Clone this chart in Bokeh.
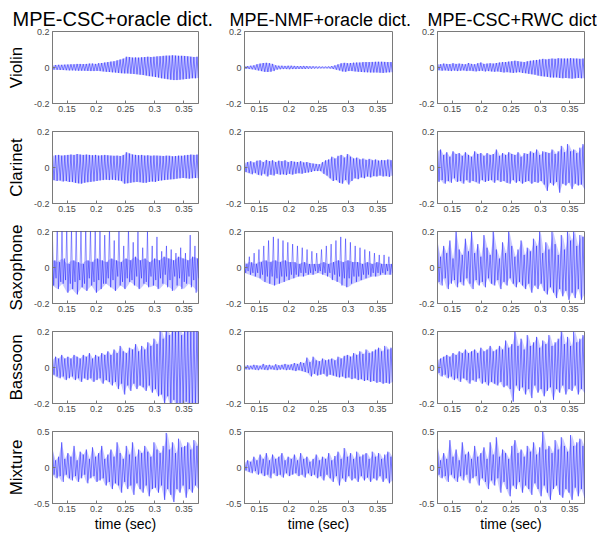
import numpy as np
from bokeh.plotting import figure
from bokeh.layouts import column, row
from bokeh.models import FixedTicker, CustomJSTickFormatter, Range1d
from bokeh.embed import file_html
from bokeh.resources import INLINE

# ---------------- data ----------------
methods = ["MPE-CSC+oracle dict.", "MPE-NMF+oracle dict.", "MPE-CSC+RWC dict"]
instruments = ["Violin", "Clarinet", "Saxophone", "Bassoon", "Mixture"]
x_ticks = [0.15, 0.2, 0.25, 0.3, 0.35]
x_limits = [0.125, 0.375]
y_limits = [0.2, 0.2, 0.2, 0.2, 0.5]
x_label = "time (sec)"

# Violin
violin_csc_top = [0.012,0.014,0.015,0.015,0.016,0.017, 0.018,0.018,0.02,0.02,0.019,0.02,
                  0.022,0.022,0.02,0.024,0.025,0.028, 0.03,0.033,0.035,0.04,0.045,0.05,
                  0.06,0.058,0.055,0.056,0.055,0.057, 0.058,0.06,0.058,0.06,0.062,0.063,
                  0.065,0.066,0.066,0.068,0.066,0.065, 0.065,0.064,0.062,0.06,0.058,0.06]
violin_csc_bot = [-0.012,-0.013,-0.014,-0.014,-0.015,-0.016, -0.016,-0.017,-0.018,-0.018,-0.018,-0.019,
                  -0.02,-0.02,-0.019,-0.02,-0.022,-0.024, -0.025,-0.027,-0.028,-0.03,-0.032,-0.033,
                  -0.033,-0.035,-0.036,-0.038,-0.04,-0.042, -0.045,-0.048,-0.05,-0.053,-0.056,-0.06,
                  -0.062,-0.065,-0.068,-0.07,-0.07,-0.068, -0.066,-0.064,-0.062,-0.06,-0.06,-0.058]
violin_nmf_top = [0.008,0.008,0.01,0.012,0.018,0.022, 0.025,0.026,0.024,0.02,0.012,0.01,
                  0.01,0.009,0.01,0.01,0.009,0.008, 0.008,0.009,0.008,0.007,0.007,0.006,
                  0.006,0.005,0.005,0.006,0.008,0.012, 0.018,0.024,0.026,0.024,0.025,0.027,
                  0.028,0.028,0.03,0.03,0.03,0.031, 0.032,0.032,0.032,0.031,0.03,0.03]
violin_nmf_bot = [-0.007,-0.008,-0.01,-0.012,-0.016,-0.02, -0.024,-0.025,-0.024,-0.02,-0.012,-0.01,
                  -0.009,-0.009,-0.01,-0.009,-0.009,-0.008, -0.008,-0.008,-0.007,-0.007,-0.006,-0.006,
                  -0.005,-0.005,-0.005,-0.006,-0.008,-0.012, -0.016,-0.022,-0.024,-0.02,-0.02,-0.022,
                  -0.024,-0.025,-0.026,-0.027,-0.028,-0.028, -0.028,-0.029,-0.03,-0.028,-0.027,-0.026]
violin_rwc_top = [0.02,0.018,0.022,0.02,0.019,0.024, 0.02,0.022,0.02,0.018,0.025,0.02,
                  0.018,0.024,0.028,0.02,0.022,0.024, 0.022,0.025,0.028,0.03,0.03,0.033,
                  0.035,0.038,0.035,0.032,0.03,0.035, 0.038,0.04,0.042,0.045,0.048,0.045,
                  0.048,0.05,0.048,0.052,0.05,0.05, 0.05,0.052,0.05,0.05,0.048,0.05]
violin_rwc_bot = [-0.015,-0.018,-0.016,-0.018,-0.02,-0.017, -0.02,-0.018,-0.016,-0.02,-0.018,-0.02,
                  -0.022,-0.02,-0.018,-0.022,-0.02,-0.022, -0.024,-0.022,-0.025,-0.028,-0.026,-0.028,
                  -0.03,-0.028,-0.026,-0.03,-0.032,-0.035, -0.038,-0.04,-0.045,-0.048,-0.05,-0.052,
                  -0.055,-0.056,-0.055,-0.058,-0.06,-0.058, -0.06,-0.062,-0.06,-0.058,-0.06,-0.06]

# Clarinet
clarinet_csc_top = [0.065,0.068,0.07,0.066,0.068,0.07, 0.072,0.07,0.075,0.072,0.07,0.072,
                    0.07,0.068,0.07,0.066,0.068,0.07, 0.068,0.066,0.065,0.066,0.064,0.07,
                    0.085,0.078,0.072,0.07,0.068,0.07, 0.066,0.068,0.065,0.067,0.066,0.065,
                    0.064,0.066,0.065,0.062,0.064,0.066, 0.065,0.068,0.07,0.072,0.07,0.072]
clarinet_csc_bot = [-0.07,-0.075,-0.072,-0.078,-0.075,-0.08, -0.08,-0.085,-0.088,-0.09,-0.085,-0.082,
                    -0.08,-0.078,-0.075,-0.072,-0.07,-0.068, -0.07,-0.068,-0.07,-0.072,-0.075,-0.09,
                    -0.088,-0.085,-0.082,-0.08,-0.082,-0.085, -0.085,-0.08,-0.078,-0.08,-0.075,-0.072,
                    -0.07,-0.068,-0.066,-0.065,-0.062,-0.06, -0.058,-0.06,-0.062,-0.06,-0.058,-0.06]
clarinet_nmf_top = [0.025,0.03,0.035,0.028,0.038,0.04, 0.03,0.042,0.035,0.04,0.03,0.038,
                    0.035,0.04,0.03,0.036,0.032,0.03, 0.035,0.028,0.03,0.025,0.022,0.02,
                    0.018,0.03,0.04,0.045,0.06,0.05, 0.065,0.07,0.055,0.075,0.06,0.05,
                    0.055,0.045,0.05,0.042,0.048,0.04, 0.045,0.038,0.042,0.04,0.045,0.04]
clarinet_nmf_bot = [-0.025,-0.03,-0.038,-0.03,-0.04,-0.045, -0.035,-0.05,-0.04,-0.045,-0.035,-0.04,
                    -0.038,-0.042,-0.035,-0.04,-0.035,-0.032, -0.035,-0.03,-0.028,-0.025,-0.02,-0.02,
                    -0.02,-0.035,-0.045,-0.06,-0.075,-0.07, -0.085,-0.09,-0.07,-0.095,-0.075,-0.06,
                    -0.065,-0.055,-0.06,-0.05,-0.055,-0.048, -0.05,-0.045,-0.05,-0.048,-0.052,-0.045]
clarinet_rwc_top = [0.09,0.1,0.07,0.085,0.06,0.09, 0.075,0.08,0.065,0.085,0.07,0.06,
                    0.09,0.075,0.08,0.065,0.08,0.07, 0.075,0.1,0.065,0.08,0.07,0.085,
                    0.075,0.07,0.085,0.06,0.08,0.075, 0.09,0.08,0.1,0.07,0.09,0.085,
                    0.08,0.1,0.075,0.09,0.12,0.085, 0.13,0.09,0.1,0.08,0.11,0.13]
clarinet_rwc_bot = [-0.08,-0.07,-0.09,-0.075,-0.085,-0.06, -0.08,-0.075,-0.09,-0.07,-0.085,-0.075,
                    -0.08,-0.09,-0.07,-0.08,-0.075,-0.07, -0.085,-0.07,-0.08,-0.075,-0.085,-0.09,
                    -0.07,-0.085,-0.075,-0.09,-0.08,-0.075, -0.09,-0.08,-0.085,-0.075,-0.095,-0.13,
                    -0.085,-0.1,-0.08,-0.14,-0.09,-0.1, -0.085,-0.12,-0.09,-0.1,-0.095,-0.12]

# Saxophone (periodic spikes: spike / mid on top, trough / low at bottom)
sax_csc_spike = [0.16,0.22,0.22,0.22,0.22,0.22,0.22,0.22,0.22,0.22,0.22,0.18,0.22,0.15,0.22,0.12,
                 0.22,0.14,0.2,0.11,0.2,0.12,0.17,0.09,0.12,0.1,0.08,0.11,0.08,0.18,0.12]
sax_csc_mid = [0.04,0.03,0.05,0.02,0.04,0.03,0.02,0.04,0.03,0.05,0.04,0.03,0.05,0.04,0.03,0.05,
               0.04,0.06,0.04,0.05,0.03,0.05,0.04,0.06,0.05,0.04,0.06,0.05,0.04,0.06,0.05]
sax_csc_trough = [-0.1,-0.12,-0.09,-0.14,-0.12,-0.15,-0.11,-0.13,-0.1,-0.14,-0.12,-0.09,-0.11,-0.13,-0.1,-0.12,
                  -0.08,-0.1,-0.12,-0.09,-0.11,-0.1,-0.12,-0.09,-0.11,-0.13,-0.1,-0.12,-0.09,-0.11,-0.14]
sax_csc_low = [-0.06,-0.08,-0.07,-0.09,-0.08,-0.07,-0.09,-0.06,-0.08,-0.07,-0.09,-0.06,-0.07,-0.05,-0.08,-0.06,
               -0.07,-0.05,-0.06,-0.08,-0.05,-0.07,-0.06,-0.04,-0.07,-0.05,-0.06,-0.08,-0.05,-0.07,-0.06]
sax_nmf_spike = [0.04,0.06,0.08,0.1,0.12,0.15,0.17,0.16,0.15,0.14,0.13,0.12,0.11,0.1,0.09,0.08,
                 0.1,0.12,0.13,0.15,0.17,0.16,0.14,0.12,0.11,0.1,0.09,0.08,0.07,0.07,0.06]
sax_nmf_mid = [0.02,0.03,0.02,0.03,0.04,0.03,0.04,0.03,0.04,0.03,0.03,0.02,0.03,0.02,0.02,0.02,
               0.03,0.02,0.03,0.04,0.03,0.04,0.03,0.03,0.02,0.03,0.02,0.03,0.02,0.02,0.02]
sax_nmf_trough = [-0.03,-0.04,-0.05,-0.06,-0.08,-0.09,-0.1,-0.09,-0.08,-0.07,-0.06,-0.05,-0.05,-0.04,-0.04,-0.03,
                  -0.04,-0.05,-0.07,-0.08,-0.1,-0.11,-0.09,-0.08,-0.07,-0.06,-0.05,-0.05,-0.04,-0.04,-0.04]
sax_nmf_low = [-0.02,-0.03,-0.03,-0.04,-0.05,-0.05,-0.06,-0.05,-0.05,-0.04,-0.04,-0.03,-0.03,-0.03,-0.02,-0.02,
               -0.03,-0.03,-0.04,-0.05,-0.06,-0.06,-0.05,-0.05,-0.04,-0.04,-0.03,-0.03,-0.03,-0.02,-0.03]
sax_rwc_top = [0.14,0.06,0.12,0.08,0.15,0.05,0.2,0.1,0.07,0.16,0.09,0.2,0.08,0.13,0.06,0.18,
               0.11,0.07,0.2,0.1,0.05,0.14,0.08,0.2,0.12,0.06,0.1,0.15,0.07,0.11,0.09,0.16,
               0.12,0.2,0.08,0.14,0.1,0.2,0.13,0.07,0.18,0.1,0.2,0.15,0.2,0.12,0.18,0.17]
sax_rwc_bot = [-0.08,-0.1,-0.06,-0.12,-0.09,-0.07,-0.11,-0.08,-0.1,-0.06,-0.09,-0.12,-0.07,-0.1,-0.08,-0.11,
               -0.06,-0.09,-0.1,-0.07,-0.12,-0.08,-0.1,-0.06,-0.09,-0.11,-0.08,-0.1,-0.12,-0.09,-0.14,-0.1,
               -0.12,-0.09,-0.13,-0.15,-0.11,-0.14,-0.17,-0.12,-0.16,-0.13,-0.18,-0.14,-0.17,-0.12,-0.18,-0.15]

# Bassoon
bassoon_csc_top = [0.04,0.06,0.05,0.07,0.05,0.06,0.05,0.07,0.06,0.05,0.07,0.06,0.08,0.05,0.07,0.06,
                   0.08,0.07,0.09,0.07,0.1,0.08,0.12,0.09,0.08,0.11,0.1,0.13,0.09,0.12,0.1,0.14,
                   0.12,0.16,0.13,0.22,0.16,0.22,0.18,0.22,0.2,0.22,0.18,0.22,0.22,0.2,0.22,0.22]
bassoon_csc_bot = [-0.04,-0.05,-0.06,-0.05,-0.07,-0.06,-0.05,-0.07,-0.06,-0.08,-0.06,-0.07,-0.06,-0.08,-0.07,-0.06,
                   -0.09,-0.07,-0.08,-0.1,-0.08,-0.12,-0.09,-0.15,-0.1,-0.13,-0.09,-0.12,-0.1,-0.11,-0.13,-0.1,
                   -0.14,-0.12,-0.16,-0.15,-0.2,-0.16,-0.22,-0.18,-0.22,-0.2,-0.22,-0.19,-0.22,-0.22,-0.2,-0.22]
bassoon_nmf_top = [0.01,0.012,0.01,0.015,0.012,0.01,0.02,0.012,0.015,0.01,0.018,0.012,0.015,0.02,0.015,0.018,
                   0.025,0.02,0.03,0.025,0.055,0.03,0.06,0.04,0.035,0.05,0.04,0.045,0.05,0.04,0.06,0.05,
                   0.065,0.07,0.06,0.08,0.07,0.09,0.075,0.1,0.08,0.09,0.1,0.11,0.09,0.12,0.1,0.11]
bassoon_nmf_bot = [-0.01,-0.012,-0.01,-0.012,-0.015,-0.01,-0.012,-0.015,-0.01,-0.012,-0.015,-0.012,-0.01,-0.015,-0.012,-0.015,
                   -0.02,-0.015,-0.02,-0.025,-0.03,-0.05,-0.035,-0.045,-0.04,-0.035,-0.05,-0.04,-0.045,-0.05,-0.055,-0.05,
                   -0.06,-0.055,-0.065,-0.06,-0.07,-0.065,-0.075,-0.07,-0.08,-0.075,-0.085,-0.08,-0.09,-0.085,-0.09,-0.08]
bassoon_rwc_top = [0.04,0.05,0.06,0.07,0.06,0.08,0.07,0.09,0.08,0.1,0.08,0.09,0.1,0.08,0.11,0.09,
                   0.1,0.12,0.09,0.1,0.12,0.1,0.15,0.11,0.13,0.2,0.12,0.16,0.1,0.18,0.12,0.14,
                   0.17,0.11,0.15,0.13,0.18,0.12,0.14,0.16,0.2,0.13,0.17,0.12,0.2,0.14,0.16,0.18]
bassoon_rwc_bot = [-0.03,-0.05,-0.04,-0.06,-0.05,-0.07,-0.06,-0.08,-0.06,-0.07,-0.09,-0.07,-0.08,-0.06,-0.09,-0.08,
                   -0.1,-0.08,-0.09,-0.1,-0.08,-0.11,-0.1,-0.12,-0.19,-0.1,-0.13,-0.11,-0.15,-0.12,-0.17,-0.1,
                   -0.14,-0.12,-0.16,-0.13,-0.11,-0.18,-0.12,-0.14,-0.1,-0.15,-0.12,-0.13,-0.1,-0.15,-0.12,-0.14]

# Mixture
mixture_csc_top = [0.25,0.1,0.15,0.35,0.12,0.2,0.15,0.3,0.1,0.22,0.18,0.25,0.12,0.28,0.15,0.2,
                   0.3,0.12,0.18,0.25,0.15,0.35,0.2,0.12,0.3,0.18,0.35,0.15,0.25,0.2,0.3,0.22,
                   0.15,0.35,0.25,0.2,0.3,0.48,0.25,0.35,0.2,0.4,0.28,0.3,0.35,0.25,0.38,0.3]
mixture_csc_bot = [-0.1,-0.15,-0.12,-0.2,-0.1,-0.15,-0.18,-0.12,-0.2,-0.15,-0.1,-0.22,-0.15,-0.12,-0.2,-0.18,
                   -0.15,-0.25,-0.2,-0.3,-0.22,-0.25,-0.35,-0.2,-0.3,-0.25,-0.38,-0.22,-0.3,-0.35,-0.25,-0.4,
                   -0.3,-0.28,-0.35,-0.25,-0.45,-0.3,-0.38,-0.48,-0.3,-0.35,-0.25,-0.42,-0.3,-0.35,-0.25,-0.3]
mixture_nmf_top = [0.06,0.1,0.08,0.15,0.1,0.18,0.12,0.2,0.1,0.18,0.12,0.15,0.2,0.1,0.15,0.12,
                   0.18,0.1,0.2,0.12,0.15,0.08,0.12,0.18,0.1,0.15,0.12,0.2,0.1,0.16,0.22,0.12,
                   0.27,0.15,0.2,0.12,0.22,0.15,0.18,0.2,0.12,0.22,0.15,0.2,0.12,0.18,0.22,0.15]
mixture_nmf_bot = [-0.04,-0.06,-0.08,-0.05,-0.1,-0.08,-0.12,-0.1,-0.15,-0.08,-0.12,-0.1,-0.14,-0.08,-0.12,-0.1,
                   -0.08,-0.12,-0.1,-0.14,-0.08,-0.12,-0.1,-0.15,-0.12,-0.18,-0.1,-0.15,-0.2,-0.12,-0.25,-0.15,
                   -0.2,-0.12,-0.18,-0.15,-0.2,-0.12,-0.18,-0.14,-0.2,-0.15,-0.18,-0.12,-0.2,-0.15,-0.22,-0.18]
mixture_rwc_top = [0.28,0.1,0.2,0.12,0.38,0.15,0.25,0.1,0.35,0.18,0.22,0.12,0.3,0.15,0.2,0.28,
                   0.12,0.35,0.18,0.42,0.15,0.25,0.2,0.12,0.3,0.38,0.2,0.25,0.15,0.3,0.22,0.35,
                   0.18,0.28,0.5,0.25,0.3,0.2,0.38,0.25,0.42,0.3,0.22,0.45,0.3,0.35,0.4,0.3]
mixture_rwc_bot = [-0.1,-0.15,-0.12,-0.2,-0.1,-0.15,-0.2,-0.12,-0.18,-0.1,-0.22,-0.15,-0.12,-0.25,-0.15,-0.2,
                   -0.3,-0.18,-0.25,-0.15,-0.35,-0.2,-0.3,-0.4,-0.25,-0.3,-0.2,-0.35,-0.25,-0.3,-0.38,-0.22,
                   -0.3,-0.4,-0.25,-0.35,-0.45,-0.3,-0.25,-0.38,-0.42,-0.3,-0.35,-0.45,-0.28,-0.4,-0.3,-0.42]


def interleave(a, b):
    out = []
    for p, q in zip(a, b):
        out += [p, q]
    return out


# (top, bottom, band_top, band_bottom) per panel
waves = [
    [(violin_csc_top, violin_csc_bot, violin_csc_top, violin_csc_bot),
     (violin_nmf_top, violin_nmf_bot, violin_nmf_top, violin_nmf_bot),
     (violin_rwc_top, violin_rwc_bot, violin_rwc_top, violin_rwc_bot)],
    [(clarinet_csc_top, clarinet_csc_bot, clarinet_csc_top, clarinet_csc_bot),
     (clarinet_nmf_top, clarinet_nmf_bot, clarinet_nmf_top, clarinet_nmf_bot),
     (clarinet_rwc_top, clarinet_rwc_bot, clarinet_rwc_top, clarinet_rwc_bot)],
    [(interleave(sax_csc_spike, sax_csc_mid), interleave(sax_csc_trough, sax_csc_low), sax_csc_mid, sax_csc_trough),
     (interleave(sax_nmf_spike, sax_nmf_mid), interleave(sax_nmf_trough, sax_nmf_low), sax_nmf_mid, sax_nmf_trough),
     (sax_rwc_top, sax_rwc_bot, sax_rwc_top, sax_rwc_bot)],
    [(bassoon_csc_top, bassoon_csc_bot, bassoon_csc_top, bassoon_csc_bot),
     (bassoon_nmf_top, bassoon_nmf_bot, bassoon_nmf_top, bassoon_nmf_bot),
     (bassoon_rwc_top, bassoon_rwc_bot, bassoon_rwc_top, bassoon_rwc_bot)],
    [(mixture_csc_top, mixture_csc_bot, mixture_csc_top, mixture_csc_bot),
     (mixture_nmf_top, mixture_nmf_bot, mixture_nmf_top, mixture_nmf_bot),
     (mixture_rwc_top, mixture_rwc_bot, mixture_rwc_top, mixture_rwc_bot)],
]

# ---------------- layout ----------------
FONT = "Liberation Sans"
frame_w = [146, 148, 147]
border_l = [52, 26, 25]
border_r = [20, 20, 13]
title_size = ["20px", "18px", "18px"]
title_offset = [-40, -15, -10]
GRAY = "#7a7a7a"
WAVE = "#0000ff"
BAND = "#8c8cff"

fmt = CustomJSTickFormatter(code="return tick.toString();")

rows = []
for r in range(5):
    figs = []
    for c in range(3):
        lim = y_limits[r]
        p = figure(frame_width=frame_w[c], frame_height=72,
                   min_border_left=border_l[c], min_border_right=border_r[c],
                   min_border_top=31 if r == 0 else 6, min_border_bottom=30 if r == 4 else 22,
                   x_range=Range1d(x_limits[0], x_limits[1]), y_range=Range1d(-lim, lim),
                   output_backend="svg", toolbar_location=None,
                   title=methods[c] if r == 0 else None)
        p.background_fill_color = "white"
        p.border_fill_color = "white"
        p.outline_line_color = GRAY
        p.outline_line_width = 1
        p.xgrid.visible = False
        p.ygrid.visible = False

        if r == 0:
            p.title.text_font = FONT
            p.title.text_font_size = title_size[c]
            p.title.text_font_style = "normal"
            p.title.text_color = "black"
            p.title.align = "left"
            p.title.offset = title_offset[c]
            p.title.standoff = 3

        xax = p.below[0]
        yax = p.left[0]
        for ax in (xax, yax):
            ax.axis_line_color = GRAY
            ax.major_tick_line_color = GRAY
            ax.minor_tick_line_color = None
            ax.major_tick_in = 3
            ax.major_tick_out = 0
            ax.major_label_text_font = FONT
            ax.major_label_text_font_size = "9px"
            ax.major_label_text_color = "#4a4a4a"
            ax.formatter = fmt
        xax.ticker = FixedTicker(ticks=x_ticks)
        yax.ticker = FixedTicker(ticks=[-lim, 0, lim])
        xax.major_label_standoff = 2
        yax.major_label_standoff = 3

        if c == 0:
            yax.axis_label = instruments[r]
            yax.axis_label_text_font = FONT
            yax.axis_label_text_font_size = "17px"
            yax.axis_label_text_font_style = "normal"
            yax.axis_label_text_color = "black"
            yax.axis_label_standoff = 5

        if r == 4:
            xax.axis_label = x_label
            xax.axis_label_text_font = FONT
            xax.axis_label_text_font_size = "14px"
            xax.axis_label_text_font_style = "normal"
            xax.axis_label_text_color = "black"
            xax.axis_label_standoff = 1

        top, bot, band_top, band_bot = waves[r][c]
        nb = len(band_top)
        xb = np.linspace(x_limits[0], x_limits[1], nb)
        p.varea(x=xb, y1=band_bot, y2=band_top, fill_color=BAND, fill_alpha=0.45)

        n = len(top)
        y = np.empty(2 * n)
        y[0::2] = top
        y[1::2] = bot
        x = np.linspace(x_limits[0], x_limits[1], 2 * n)
        p.line(x, y, line_color=WAVE, line_width=0.7, line_alpha=0.6)

        figs.append(p)
    rows.append(row(*figs))

layout = column(*rows)
open("out.html", "w").write(file_html(layout, INLINE))
